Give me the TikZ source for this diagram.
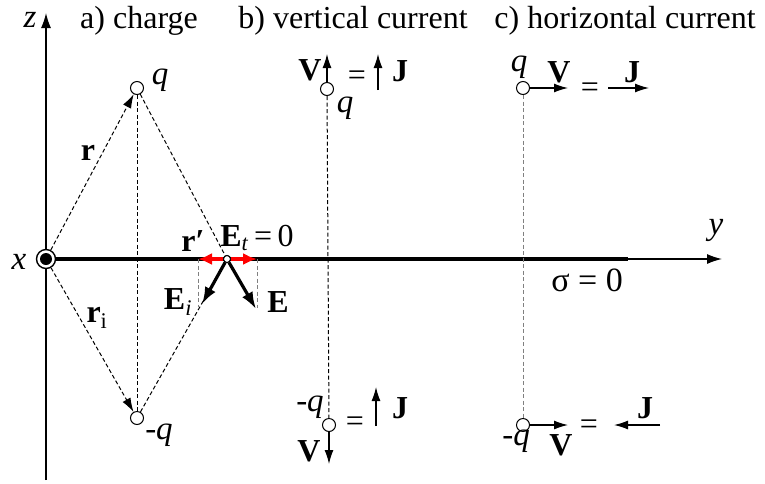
\documentclass[tikz,border=0pt]{standalone}
\usepackage{fontspec}
\setmainfont{Liberation Serif}
\usetikzlibrary{arrows.meta}
\begin{document}
\begin{tikzpicture}[x=1pt,y=-1pt,
  lab/.style={font=\fontsize{32}{34}\selectfont, inner sep=0pt},
  ilab/.style={font=\fontsize{33}{35}\selectfont\itshape, inner sep=0pt},
  ttl/.style={font=\fontsize{32}{34}\selectfont, inner sep=0pt, anchor=base},
  charge/.style={circle,draw,fill=white,minimum size=13pt,inner sep=0pt,line width=1pt},
  dsh/.style={line width=1pt,dash pattern=on 4pt off 2.5pt},
  thinline/.style={line width=1.3pt},
  arr/.style={-{Latex[length=14pt,width=9pt]}},
  bigarr/.style={line width=3.2pt,-{Latex[length=17pt,width=12pt]}},
  redarr/.style={line width=3.2pt,red,-{Latex[length=14pt,width=12pt]}}]
\useasboundingbox (0,0) rectangle (765,483);
% axes
\coordinate (zb) at (46,480);
\coordinate (zt) at (46,13);
\coordinate (ye) at (722,259);
\coordinate (yk) at (628,259);
\draw[thinline,-{Latex[length=15pt,width=10pt]}] (zb) -- (zt);
\node[circle,draw,fill=white,line width=1.4pt,minimum size=19pt,inner sep=0pt] (O) at (46,259) {};
\fill (O.center) circle (6pt);
\draw[thinline,-{Latex[length=15pt,width=10pt]}] (O.east) -- (ye);
\draw[line width=3.2pt] (O.east) -- (yk);
\node[ilab] (zl) at (30,20) {z};
\node[ilab] (xl) at (19,262) {x};
\node[ilab] (yl) at (716,230) {y};
\node[lab,font=\fontsize{34}{36}\selectfont] (sig) at (587,280) {σ = 0};
% titles
\node[ttl] (ta) at (139,28) {a) charge};
\node[ttl] (tb) at (353,28) {b) vertical current};
\node[ttl] (tc) at (625,28) {c) horizontal current};
% panel a
\node[charge] (qa) at (137,88) {};
\node[charge] (nqa) at (137,418) {};
\node[circle,draw,fill=white,minimum size=7pt,inner sep=0pt,line width=1pt] (P) at (227,259) {};
\draw[dsh] (qa) -- (nqa);
\draw[dsh] (qa) -- (P);
\draw[dsh] (nqa) -- (P);
\draw[dsh,arr] (O) -- (qa);
\draw[dsh,arr] (O) -- (nqa);
\coordinate (L) at (198,259);
\coordinate (R) at (257,259);
\coordinate (Li) at (198,307);
\coordinate (Ri) at (257,308);
\coordinate (Eit) at (202,304);
\coordinate (Et) at (256,309);
\draw[dsh,gray] (L) -- (Li);
\draw[dsh,gray] (R) -- (Ri);
\draw[bigarr] (P) -- (Eit);
\draw[bigarr] (P) -- (Et);
\draw[redarr] (P) -- (L);
\draw[redarr] (P) -- (R);
\node[charge,minimum size=7pt] (P2) at (227,259) {};
\node[ilab] (qal) at (160,80) {q};
\node[ilab] (nqal) at (159,435) {-q};
\node[lab] (rl) at (88,153) {\textbf{r}};
\node[lab] (ril) at (97,318) {\textbf{r}\textsubscript{i}};
\node[lab] (rpl) at (193,241) {\textbf{r\char"2032}};
\node[lab] (Etl) at (257,238) {\textbf{E}\textsubscript{\textit{t}}\,=\,0};
\node[lab] (Eil) at (178,302) {\textbf{E}\textsubscript{\textit{i}}};
\node[lab] (El) at (278,302) {\textbf{E}};
% panel b
\node[charge] (qb) at (327,89) {};
\node[charge] (nqb) at (329,425) {};
\draw[dsh] (qb) -- (nqb);
\coordinate (vbt) at (327,54);
\coordinate (vbb) at (329,464);
\draw[thinline,arr] (qb) -- (vbt);
\draw[thinline,arr] (nqb) -- (vbb);
\coordinate (jb1a) at (378,90);
\coordinate (jb1b) at (378,54);
\coordinate (jb2a) at (376,426);
\coordinate (jb2b) at (376,387);
\draw[thinline,arr] (jb1a) -- (jb1b);
\draw[thinline,arr] (jb2a) -- (jb2b);
\node[lab] (vb1) at (310,70) {\textbf{V}};
\node[lab] (eb1) at (357,78) {=};
\node[lab] (jb1) at (400,71) {\textbf{J}};
\node[ilab] (qbl) at (345,108) {q};
\node[ilab] (nqbl) at (310,407) {-q};
\node[lab] (eb2) at (355,424) {=};
\node[lab] (jb2) at (400,408) {\textbf{J}};
\node[lab] (vb2) at (309,451) {\textbf{V}};
% panel c
\node[charge] (qc) at (523,88) {};
\node[charge] (nqc) at (523,425) {};
\draw[dsh,gray] (qc) -- (nqc);
\coordinate (vc1) at (568,88);
\coordinate (vc2) at (568,425);
\draw[thinline,arr] (qc) -- (vc1);
\draw[thinline,arr] (nqc) -- (vc2);
\coordinate (jc1a) at (608,88);
\coordinate (jc1b) at (649,88);
\coordinate (jc2a) at (660,425);
\coordinate (jc2b) at (614,425);
\draw[thinline,arr] (jc1a) -- (jc1b);
\draw[thinline,arr] (jc2a) -- (jc2b);
\node[ilab] (qcl) at (519,67) {q};
\node[lab] (vc1l) at (559,72) {\textbf{V}};
\node[lab] (ec1) at (590,90) {=};
\node[lab] (jc1l) at (632,72) {\textbf{J}};
\node[ilab] (nqcl) at (516,441) {-q};
\node[lab] (vc2l) at (561,445) {\textbf{V}};
\node[lab] (ec2) at (589,427) {=};
\node[lab] (jc2l) at (645,408) {\textbf{J}};
\end{tikzpicture}
\end{document}
